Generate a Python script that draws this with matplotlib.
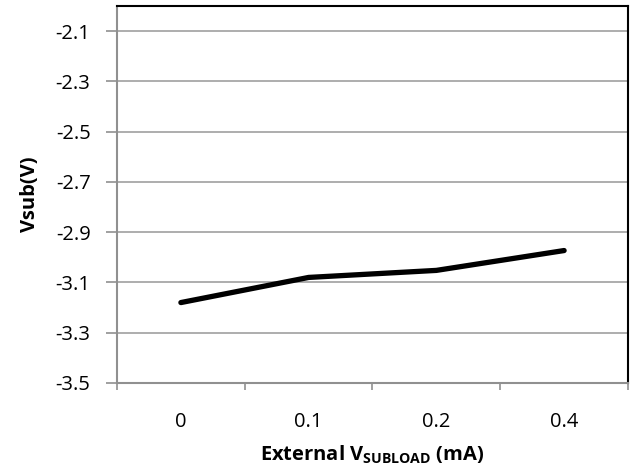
import numpy as np
import matplotlib.pyplot as plt

plt.rcParams['font.family'] = ['Open Sans', 'DejaVu Sans']
plt.rcParams['mathtext.fontset'] = 'custom'
plt.rcParams['mathtext.bf'] = 'Open Sans:bold'
plt.rcParams['mathtext.rm'] = 'Open Sans:bold'

# data
categories = ['0', '0.1', '0.2', '0.4']
vsub = [-3.18, -3.08, -3.052, -2.973]
y_ticks = [-3.5, -3.3, -3.1, -2.9, -2.7, -2.5, -2.3, -2.1]

fig = plt.figure(figsize=(6.38, 4.69), dpi=100)
ax = fig.add_axes([0.1834, 0.1834, 0.8009, 0.8038])

x = np.arange(len(categories))
ax.plot(x, vsub, color='black', lw=3.8, solid_capstyle='round', zorder=3)

ax.set_xlim(-0.5, len(categories) - 0.5)
ax.set_ylim(-3.5, -2.0)
ax.set_yticks(y_ticks)
ax.set_yticklabels([f'{v:.1f}' for v in y_ticks])
ax.yaxis.grid(True, color='#a0a0a0', lw=1.2)
ax.set_axisbelow(True)

# category ticks at boundaries, labels at centres
ax.set_xticks(np.arange(len(categories) + 1) - 0.5)
ax.set_xticklabels([])
ax.set_xticks(x, minor=True)
ax.set_xticklabels(categories, minor=True)
ax.tick_params(axis='x', which='minor', length=0, pad=21, labelsize=14.5)
ax.tick_params(axis='x', which='major', direction='out', length=5, color='#909090', width=1.2)
ax.tick_params(axis='y', direction='out', length=8, color='#909090', width=1.2, labelsize=14.5, pad=11)

for side in ['left', 'bottom']:
    ax.spines[side].set_color('#909090')
    ax.spines[side].set_linewidth(1.5)
for side in ['top', 'right']:
    ax.spines[side].set_color('black')
    ax.spines[side].set_linewidth(1.5)

ax.set_ylabel('Vsub(V)', fontsize=14.5, fontweight='bold', labelpad=11)
ax.set_xlabel(r'External V$_{\mathbf{SUBLOAD}}$ (mA)', fontsize=14.5, fontweight='bold', labelpad=8)

fig.savefig('out.png', dpi=100)
